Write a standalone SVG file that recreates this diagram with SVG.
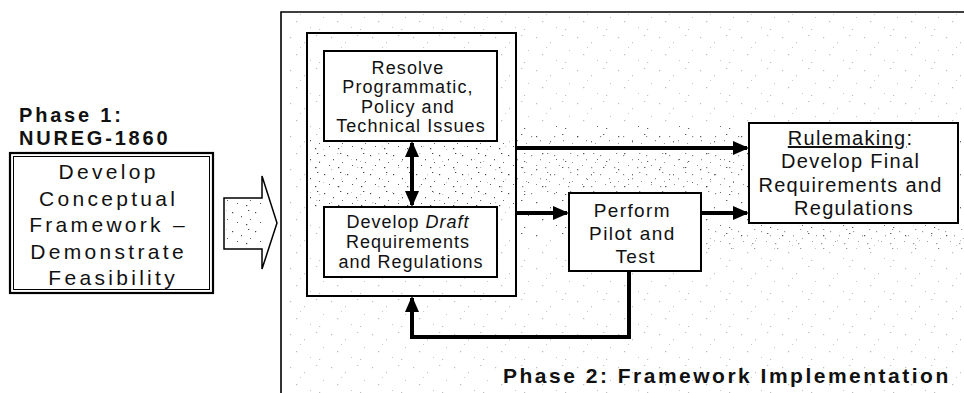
<svg xmlns="http://www.w3.org/2000/svg" width="964" height="393" viewBox="0 0 964 393">
  <defs>
    <style>
      .box { fill: #fff; stroke: #000; stroke-width: 2; }
      .frame { fill: none; stroke: #000; stroke-width: 1.6; }
      .lbl { font-family: "Liberation Sans", Arial, sans-serif; fill: #111; text-anchor: middle; }
      .ph { font-family: "Liberation Sans", Arial, sans-serif; font-weight: bold; fill: #111; }
      .conn { fill: none; stroke: #000; stroke-width: 4; }
    </style>
    <marker id="ah" markerUnits="userSpaceOnUse" markerWidth="16" markerHeight="14" refX="14" refY="7" orient="auto-start-reverse">
      <path d="M0,0 L16,7 L0,14 Z" fill="#000"/>
    </marker>
    <pattern id="speck" width="41" height="33" patternUnits="userSpaceOnUse">
      <rect x="3" y="4" width="1.2" height="1.2" fill="#444"/>
      <rect x="17" y="9" width="1" height="1.3" fill="#555"/>
      <rect x="29" y="2" width="1.3" height="1" fill="#444"/>
      <rect x="36" y="17" width="1" height="1" fill="#555"/>
      <rect x="9" y="21" width="1.3" height="1.2" fill="#444"/>
      <rect x="23" y="27" width="1" height="1" fill="#555"/>
      <rect x="32" y="29" width="1.2" height="1" fill="#444"/>
      <rect x="13" y="14" width="1" height="1" fill="#666"/>
    </pattern>
    <pattern id="speck2" width="23" height="19" patternUnits="userSpaceOnUse">
      <rect x="2" y="3" width="1.2" height="1.2" fill="#333"/>
      <rect x="11" y="7" width="1" height="1.3" fill="#444"/>
      <rect x="18" y="1" width="1.3" height="1" fill="#333"/>
      <rect x="7" y="13" width="1" height="1" fill="#444"/>
      <rect x="16" y="15" width="1.3" height="1.2" fill="#333"/>
      <rect x="20" y="10" width="1" height="1" fill="#555"/>
    </pattern>
  </defs>

  <rect width="964" height="393" fill="#fff"/>

  <!-- speckle texture (scan noise) -->
  <g id="texture">
    <rect x="284" y="14" width="680" height="379" fill="url(#speck)" opacity="0.35"/>
    <rect x="516" y="125" width="448" height="115" fill="url(#speck)" opacity="0.8"/>
    <rect x="516" y="135" width="230" height="60" fill="url(#speck2)" opacity="0.6"/>
    <rect x="309" y="138" width="205" height="72" fill="url(#speck2)" opacity="0.9"/>
    <rect x="700" y="225" width="264" height="25" fill="url(#speck2)" opacity="0.5"/>
  </g>

  <!-- Phase 2 frame -->
  <g id="phase2">
    <path class="frame" d="M281,393 L281,12 L964,12"/>
    <text class="ph" x="503" y="383" font-size="21" letter-spacing="2.5">Phase 2: Framework Implementation</text>
  </g>

  <!-- Phase 1 -->
  <g id="phase1">
    <text class="ph" x="19" y="122" font-size="20" letter-spacing="2.8">Phase 1:</text>
    <text class="ph" x="19" y="145" font-size="20" letter-spacing="2.8">NUREG-1860</text>
  </g>
  <g id="conceptual">
    <rect x="10" y="153" width="203" height="140" fill="#fff" stroke="#000" stroke-width="2.2"/>
    <rect x="13.5" y="156.5" width="196" height="133" fill="none" stroke="#000" stroke-width="1"/>
    <text class="lbl" font-size="21" letter-spacing="3.3">
      <tspan x="113.2" y="179">Develop</tspan>
      <tspan x="113.2" y="205.5">Conceptual</tspan>
      <tspan x="113.2" y="232">Framework –</tspan>
      <tspan x="113.2" y="258.5">Demonstrate</tspan>
      <tspan x="113.2" y="285">Feasibility</tspan>
    </text>
  </g>

  <!-- block arrow -->
  <g id="blockarrow">
    <polygon points="224,198 262,198 262,176 277,223 262,269 262,249 224,249" fill="#fff" stroke="#000" stroke-width="1.5"/>
    <polygon points="226,200 262,200 262,247 226,247" fill="url(#speck2)" opacity="0.9"/>
  </g>

  <!-- inner container -->
  <g id="container">
    <rect x="307" y="33" width="209" height="263" fill="none" stroke="#000" stroke-width="2"/>
  </g>

  <g id="resolve">
    <rect class="box" x="324" y="51" width="173" height="90"/>
    <text class="lbl" font-size="18" letter-spacing="1.1">
      <tspan x="411" y="74">Resolve</tspan>
      <tspan x="411" y="93">Programmatic,</tspan>
      <tspan x="411" y="112.5">Policy and</tspan>
      <tspan x="411" y="132">Technical Issues</tspan>
    </text>
  </g>

  <g id="draft">
    <rect class="box" x="324" y="207" width="173" height="70"/>
    <text class="lbl" font-size="18" letter-spacing="1">
      <tspan x="411" y="228">Develop <tspan font-style="italic">Draft</tspan></tspan>
      <tspan x="411" y="248">Requirements</tspan>
      <tspan x="411" y="268">and Regulations</tspan>
    </text>
  </g>

  <g id="pilot">
    <rect class="box" x="569" y="193" width="132" height="78"/>
    <text class="lbl" font-size="19" letter-spacing="1.4">
      <tspan x="635.7" y="217">Perform</tspan>
      <tspan x="635.7" y="240">Pilot and</tspan>
      <tspan x="635.7" y="263">Test</tspan>
    </text>
  </g>

  <g id="rulemaking">
    <rect class="box" x="749" y="123" width="209" height="100"/>
    <text class="lbl" font-size="20" letter-spacing="1.3">
      <tspan x="854" y="145"><tspan text-decoration="underline">Rulemaking</tspan>:</tspan>
      <tspan x="854" y="168">Develop Final</tspan>
      <tspan x="854" y="192">Requirements and</tspan>
      <tspan x="854" y="215">Regulations</tspan>
    </text>
  </g>

  <!-- connectors -->
  <g id="connectors">
    <line class="conn" x1="412" y1="143" x2="412" y2="205" marker-start="url(#ah)" marker-end="url(#ah)"/>
    <line class="conn" x1="516" y1="148" x2="747" y2="148" marker-end="url(#ah)"/>
    <line class="conn" x1="516" y1="213" x2="567" y2="213" marker-end="url(#ah)"/>
    <line class="conn" x1="701" y1="213" x2="747" y2="213" marker-end="url(#ah)"/>
    <polyline class="conn" points="629,271 629,337 412,337 412,298" marker-end="url(#ah)"/>
  </g>
</svg>
